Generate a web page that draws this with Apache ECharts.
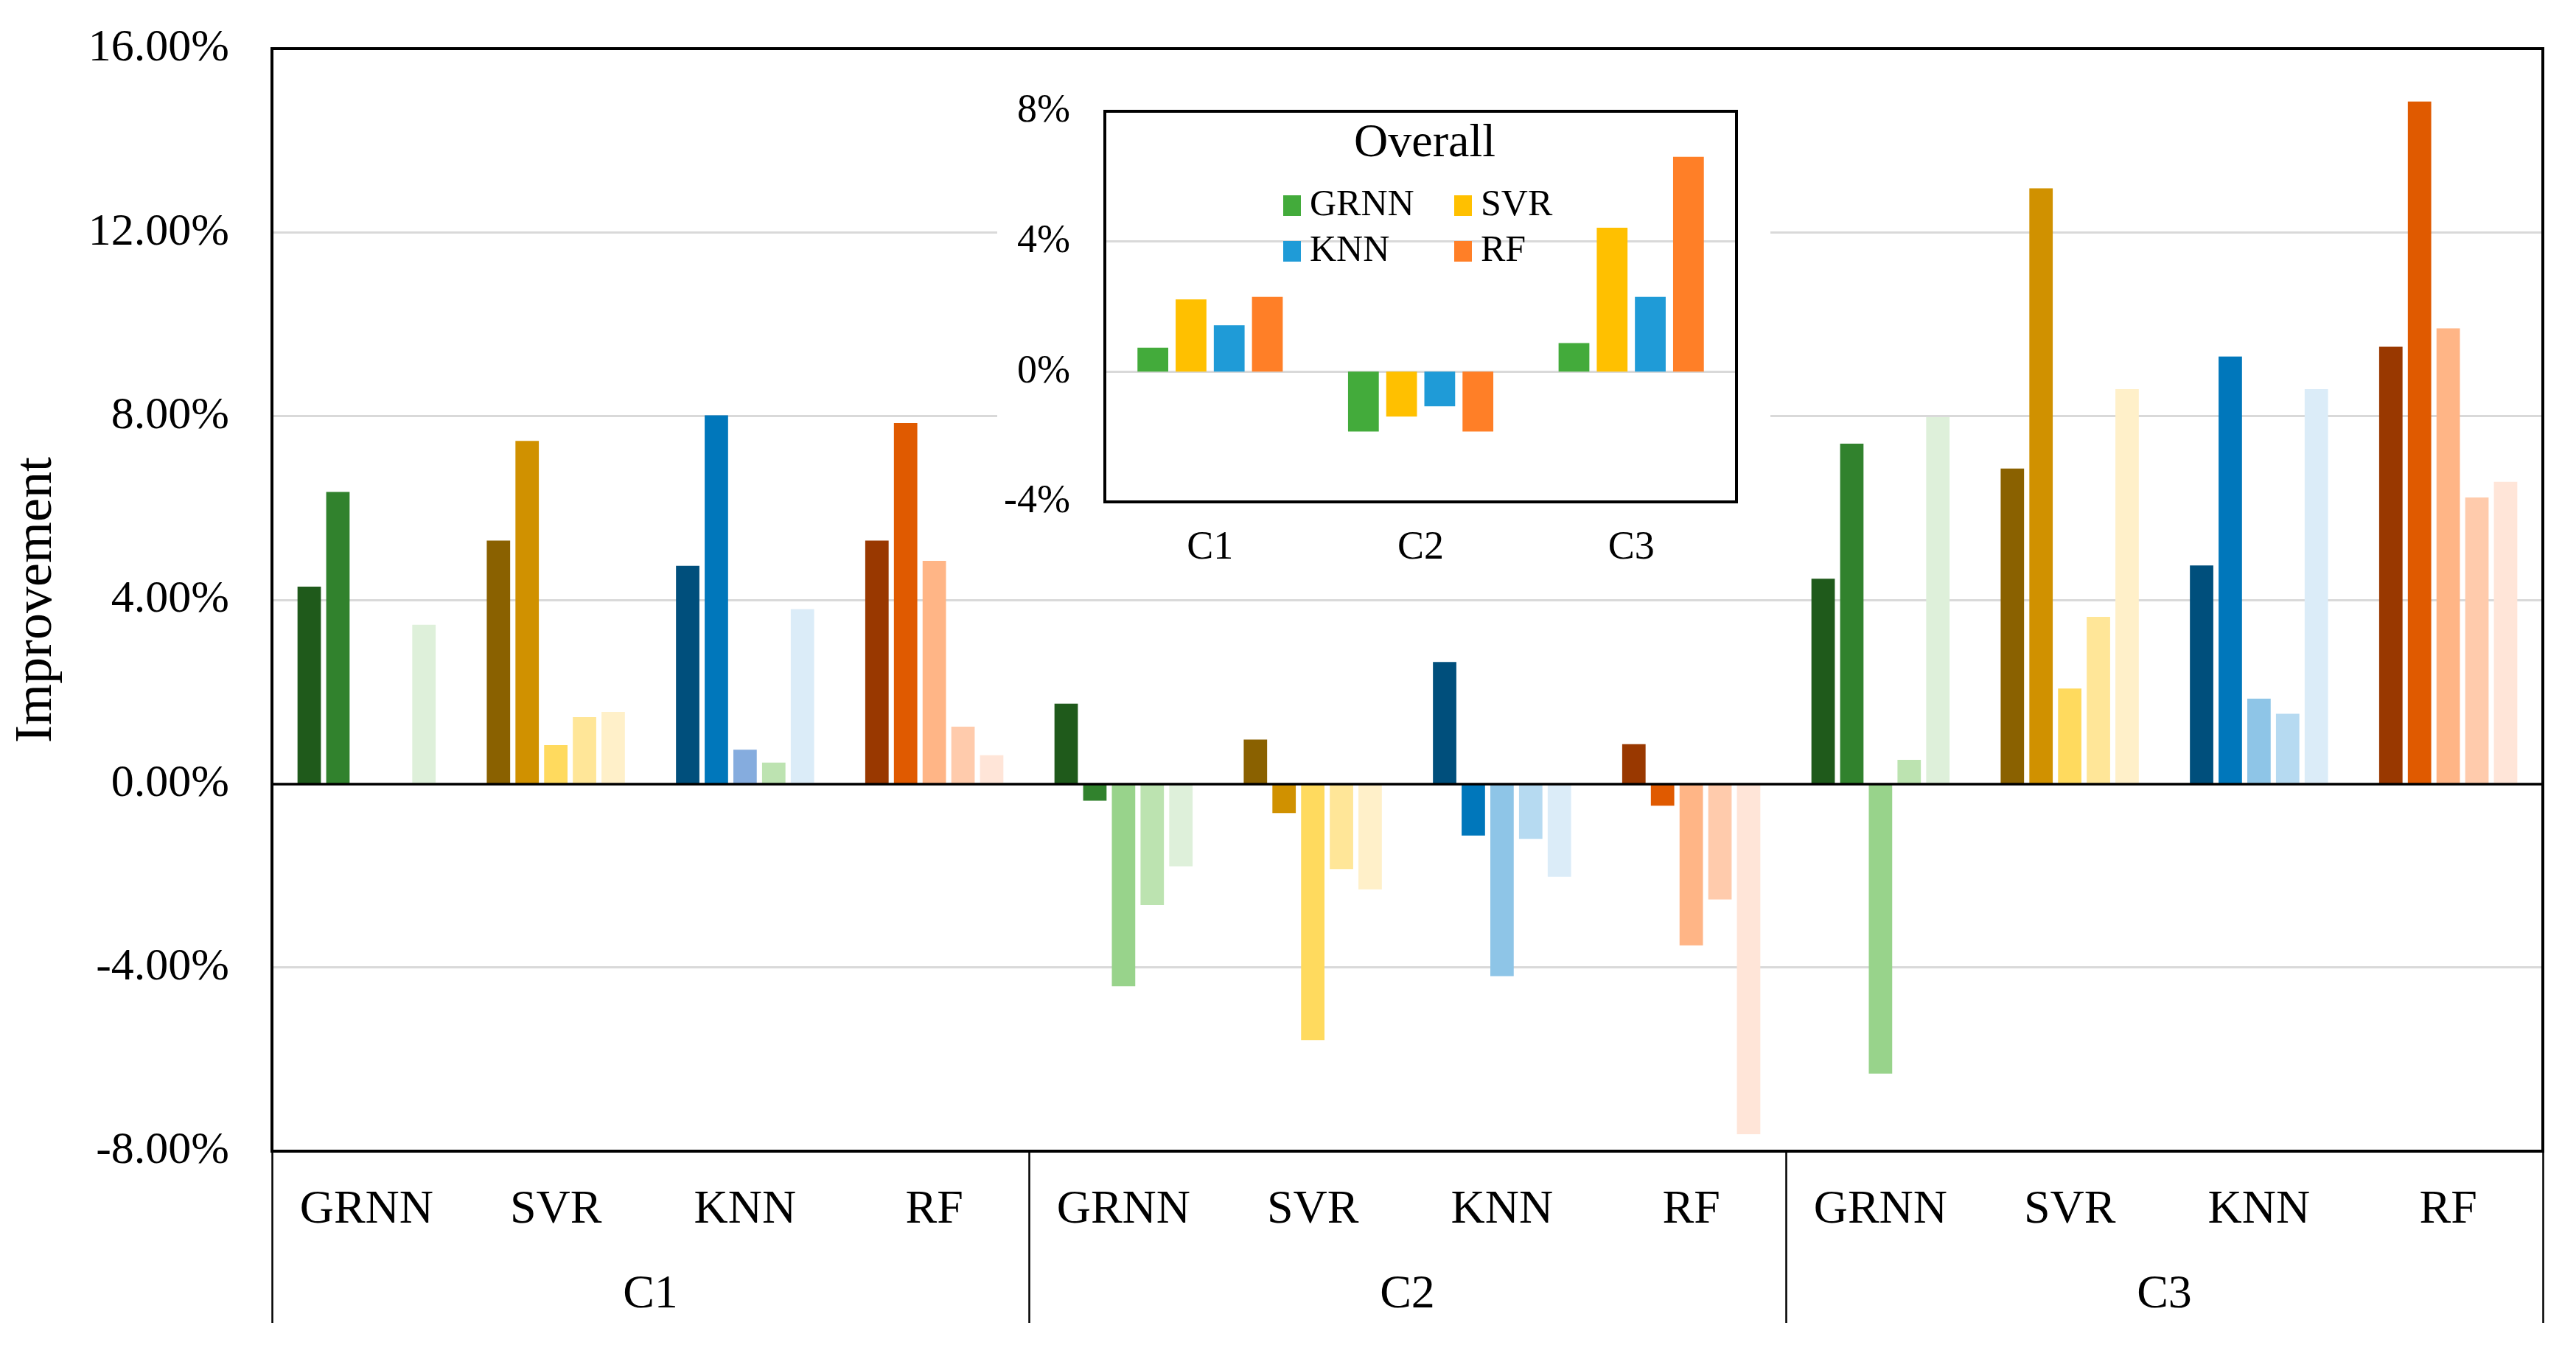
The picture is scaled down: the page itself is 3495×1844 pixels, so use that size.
<!DOCTYPE html>
<html>
<head>
<meta charset="utf-8">
<script src="https://cdn.jsdelivr.net/npm/echarts@6/dist/echarts.min.js"></script>
<style>
html,body{margin:0;padding:0;background:#fff;}
#chart{width:3495px;height:1844px;}
</style>
</head>
<body>
<div id="chart"></div>
<script>
// ---------- data ----------
const methods = ['GRNN', 'SVR', 'KNN', 'RF'];
const clusters = ['C1', 'C2', 'C3'];
const categories = ['GRNN', 'SVR', 'KNN', 'RF', 'GRNN', 'SVR', 'KNN', 'RF', 'GRNN', 'SVR', 'KNN', 'RF'];
// five bars per method group (values in %), order: C1 GRNN..RF, C2 GRNN..RF, C3 GRNN..RF
const bar1 = [4.29, 5.29, 4.74, 5.29, 1.74, 0.96, 2.65, 0.86, 4.46, 6.86, 4.75, 9.51];
const bar2 = [6.35, 7.46, 8.02, 7.85, -0.37, -0.64, -1.13, -0.48, 7.40, 12.96, 9.30, 14.85];
const bar3 = [0, 0.84, 0.74, 4.85, -4.41, -5.58, -4.19, -3.52, -6.31, 2.07, 1.85, 9.91];
const bar4 = [0, 1.45, 0.46, 1.24, -2.64, -1.86, -1.20, -2.52, 0.52, 3.63, 1.52, 6.23];
const bar5 = [3.46, 1.56, 3.80, 0.62, -1.80, -2.30, -2.03, -7.63, 7.98, 8.59, 8.59, 6.57];
// inset "Overall"
const overallGRNN = [0.74, -1.84, 0.88];
const overallSVR = [2.22, -1.38, 4.42];
const overallKNN = [1.43, -1.06, 2.30];
const overallRF = [2.30, -1.84, 6.60];
const mainTicks = [-8, -4, 0, 4, 8, 12, 16];
const insetTicks = [-4, 0, 4, 8];

// ---------- styles ----------
const FONT = "'Times New Roman', 'Liberation Serif', serif";
const shades = {
  GRNN: ['#1f5a1b', '#31822d', '#98d38b', '#bce3b0', '#def0da'],
  SVR: ['#8a6100', '#d09100', '#ffda5e', '#ffe698', '#fff0c9'],
  KNN: ['#004f7c', '#0077bb', '#8ec5e7', '#b6daf1', '#dbecf8'],
  RF: ['#993800', '#e05a00', '#ffb586', '#ffcbac', '#ffe5d8']
};
// colour quirks seen in the original (C1 KNN group)
const colorOverride = { '2-2': '#85acde', '3-2': '#bde3b1' };
const insetColors = { GRNN: '#43ab3b', SVR: '#ffc000', KNN: '#1f9bd7', RF: '#ff7f27' };

const barSets = [bar1, bar2, bar3, bar4, bar5];
const mainSeries = barSets.map((arr, si) => {
  const s = {
    name: 'Bar ' + (si + 1),
    type: 'bar',
    xAxisIndex: 0,
    yAxisIndex: 0,
    barGap: '22.6%',
    barCategoryGap: '27%',
    z: 2,
    data: arr.map((v, ci) => {
      const m = methods[ci % 4];
      const key = si + '-' + ci;
      return { value: v, itemStyle: { color: colorOverride[key] || shades[m][si] } };
    })
  };
  if (si === 0) {
    s.markLine = {
      silent: true, symbol: 'none', label: { show: false },
      lineStyle: { color: '#000', type: 'solid', width: 3.5 },
      data: [{ yAxis: 0 }]
    };
  }
  return s;
});

const insetData = { GRNN: overallGRNN, SVR: overallSVR, KNN: overallKNN, RF: overallRF };
const insetSeries = methods.map((m, i) => {
  const s = {
    name: m,
    type: 'bar',
    xAxisIndex: 2,
    yAxisIndex: 2,
    barGap: '24%',
    barCategoryGap: '31%',
    z: 22,
    itemStyle: { color: insetColors[m] },
    data: insetData[m]
  };
  if (i === 0) {
    s.markLine = {
      silent: true, symbol: 'none', label: { show: false },
      lineStyle: { color: '#000', type: 'solid', width: 3.5 },
      data: [{ yAxis: 0 }]
    };
  }
  return s;
});

const chart = echarts.init(document.getElementById('chart'), null, { renderer: 'canvas' });
const option = {
  animation: false,
  backgroundColor: '#fff',
  textStyle: { fontFamily: FONT, color: '#000' },
  title: {
    text: 'Overall',
    left: 1928, top: 158, textAlign: 'center', z: 23,
    textStyle: { fontFamily: FONT, fontSize: 64, fontWeight: 'normal', color: '#000' }
  },
  legend: [
    {
      data: ['GRNN', 'KNN'], orient: 'vertical', left: 1736, top: 249,
      itemWidth: 24, itemHeight: 28, itemGap: 12, icon: 'rect', z: 23,
      textStyle: { fontFamily: FONT, fontSize: 50, lineHeight: 50, color: '#000', padding: [0, 0, 0, 7] }
    },
    {
      data: ['SVR', 'RF'], orient: 'vertical', left: 1968, top: 249,
      itemWidth: 24, itemHeight: 28, itemGap: 12, icon: 'rect', z: 23,
      textStyle: { fontFamily: FONT, fontSize: 50, lineHeight: 50, color: '#000', padding: [0, 0, 0, 7] }
    }
  ],
  graphic: [
    {
      type: 'rect', z: 10, silent: true,
      shape: { x: 1353, y: 75, width: 1049, height: 725 },
      style: { fill: '#fff' }
    }
  ],
  grid: [
    { left: 369, right: 45, top: 66, bottom: 282, show: true, borderColor: '#000', borderWidth: 4, z: 1 },
    { left: 369, right: 45, top: 66, bottom: 282, show: false },
    { left: 1499, top: 151, width: 857, height: 530, show: true, borderColor: '#000', borderWidth: 4, z: 21 }
  ],
  xAxis: [
    {
      gridIndex: 0, type: 'category', data: categories, position: 'bottom',
      axisLine: { show: false, onZero: false },
      axisTick: { show: false },
      axisLabel: { fontFamily: FONT, fontSize: 64, color: '#000', margin: 48 },
      splitLine: { show: false }
    },
    {
      gridIndex: 1, type: 'category', data: clusters, position: 'bottom',
      axisLine: { show: false, onZero: false },
      axisTick: { show: true, length: 233, alignWithLabel: false, lineStyle: { color: '#000', width: 2.5 } },
      axisLabel: { fontFamily: FONT, fontSize: 64, color: '#000', margin: 163 },
      splitLine: { show: false }
    },
    {
      gridIndex: 2, type: 'category', data: clusters, position: 'bottom', z: 20,
      axisLine: { show: false, onZero: false },
      axisTick: { show: false },
      axisLabel: { fontFamily: FONT, fontSize: 54, color: '#000', margin: 36 },
      splitLine: { show: false }
    }
  ],
  yAxis: [
    {
      gridIndex: 0, type: 'value', min: mainTicks[0], max: mainTicks[mainTicks.length - 1], interval: 4,
      axisLine: { show: false }, axisTick: { show: false },
      axisLabel: { fontFamily: FONT, fontSize: 62, color: '#000', margin: 58, formatter: v => v.toFixed(2) + '%' },
      splitLine: { show: true, showMinLine: false, showMaxLine: false, lineStyle: { color: '#d9d9d9', width: 3 } },
      name: 'Improvement', nameLocation: 'middle', nameGap: 283, nameRotate: 90,
      nameTextStyle: { fontFamily: FONT, fontSize: 72, color: '#000' }
    },
    {
      gridIndex: 1, type: 'value', min: -8, max: 16, show: false, splitLine: { show: false }
    },
    {
      gridIndex: 2, type: 'value', min: insetTicks[0], max: insetTicks[insetTicks.length - 1], interval: 4, z: 20,
      axisLine: { show: false }, axisTick: { show: false },
      axisLabel: { fontFamily: FONT, fontSize: 54, color: '#000', margin: 47, formatter: v => v + '%' },
      splitLine: { show: true, showMinLine: false, showMaxLine: false, lineStyle: { color: '#d9d9d9', width: 3 } }
    }
  ],
  series: mainSeries.concat(insetSeries)
};
chart.setOption(option);
</script>
</body>
</html>
